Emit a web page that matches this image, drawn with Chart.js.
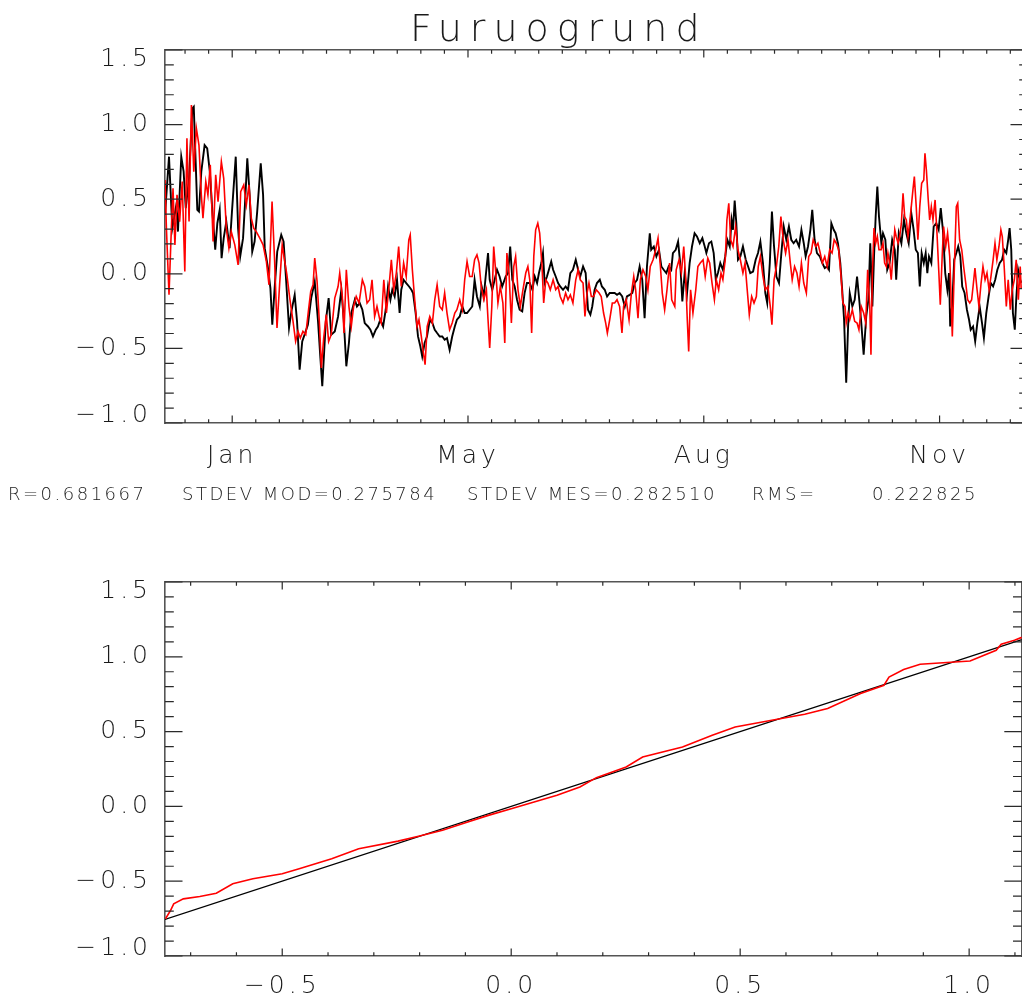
<!DOCTYPE html>
<html>
<head>
<meta charset="utf-8">
<title>Furuogrund</title>
<script src="https://cdn.jsdelivr.net/npm/chart.js@4.4.1/dist/chart.umd.min.js"></script>
<style>
  html, body { margin: 0; padding: 0; background: #fff; overflow: hidden; }
  body { width: 1022px; height: 1001px; position: relative; }
  canvas { position: absolute; left: 0; }
  #series { top: 0; }
  #qq { top: 540px; }
</style>
</head>
<body>
<canvas id="series" width="1030" height="540"></canvas>
<canvas id="qq" width="1030" height="461"></canvas>
<script>
// ---------------- data ----------------
const stationName = 'Furuogrund';
const dayRange = [0, 366];
const monthTickDays = [28.5, 128.5, 228.5, 328.5];
const monthTickLabels = ['Jan', 'May', 'Aug', 'Nov'];
const levelRange = [-1.0, 1.5];
const statLabels = ['R=0.681667', 'STDEV MOD=0.275784', 'STDEV MES=0.282510', 'RMS=', '0.222825'];

// measured sea level [day, m]
const measured = [
[0.0,0.395],[1.7,0.785],[3.1,0.306],[4.8,0.462],[5.5,0.283],[6.9,0.785],[7.9,0.685],[8.8,0.44],[10.2,0.64],[11.6,1.109],
[12.2,1.12],[13.0,0.752],[13.7,0.428],[14.4,0.417],[15.4,0.685],[16.8,0.863],[17.9,0.841],[19.0,0.685],[20.1,0.417],[21.3,0.161],
[22.2,0.339],[23.2,0.428],[24.0,0.105],[24.9,0.239],[26.0,0.35],[27.4,0.172],[28.4,0.417],[30.0,0.785],[31.0,0.306],[31.9,0.116],
[33.1,0.239],[33.9,0.462],[34.9,0.774],[35.9,0.529],[37.0,0.149],[38.0,0.216],[39.1,0.417],[40.6,0.741],[41.6,0.529],[42.3,0.172],
[43.7,0.038],[44.7,-0.096],[45.5,-0.341],[46.5,-0.096],[47.6,0.149],[49.3,0.261],[50.3,0.216],[51.4,-0.052],[52.6,-0.363],[53.6,-0.252],
[55.0,-0.141],[56.0,-0.319],[57.1,-0.643],[58.2,-0.453],[59.2,-0.408],[60.6,-0.341],[62.0,-0.163],[63.5,-0.052],[64.9,-0.319],[65.9,-0.564],
[66.7,-0.754],[68.2,-0.319],[69.4,-0.163],[70.5,-0.408],[72.0,-0.386],[73.4,-0.286],[74.8,-0.107],[75.8,-0.308],[76.9,-0.62],[78.0,-0.464],
[79.0,-0.263],[80.5,-0.174],[81.4,-0.219],[82.6,-0.196],[83.7,-0.241],[84.7,-0.33],[86.1,-0.353],[87.1,-0.375],[88.2,-0.42],[89.4,-0.375],
[90.3,-0.353],[91.3,-0.308],[92.5,-0.353],[93.6,-0.241],[94.6,-0.085],[95.6,-0.174],[96.4,-0.107],[97.4,-0.152],[98.4,-0.04],[99.5,-0.263],
[100.2,-0.107],[101.2,-0.04],[102.3,-0.062],[103.5,-0.085],[104.5,-0.107],[105.2,-0.129],[106.3,-0.263],[107.3,-0.42],[108.3,-0.487],[109.1,-0.554],
[110.1,-0.464],[111.1,-0.42],[112.3,-0.308],[113.4,-0.33],[114.4,-0.375],[115.4,-0.397],[116.5,-0.42],[117.6,-0.42],[118.6,-0.442],[119.6,-0.431],
[120.7,-0.509],[121.8,-0.42],[122.9,-0.353],[123.8,-0.308],[125.0,-0.286],[126.1,-0.219],[127.1,-0.263],[128.1,-0.263],[129.2,-0.241],[130.3,-0.219],
[131.3,-0.04],[132.3,-0.152],[133.5,-0.219],[134.3,-0.085],[135.2,-0.152],[136.0,-0.018],[137.0,0.139],[137.7,-0.04],[138.8,-0.107],[139.8,-0.04],
[140.8,0.027],[141.9,-0.018],[143.0,-0.085],[144.5,-0.018],[145.5,0.005],[146.4,0.183],[147.3,-0.04],[148.3,-0.085],[149.3,-0.174],[150.4,-0.241],
[151.5,-0.252],[152.5,-0.129],[153.5,-0.062],[154.7,-0.062],[155.8,-0.107],[156.8,-0.018],[157.8,-0.062],[158.6,0.005],[159.6,0.072],[160.3,0.139],
[161.0,-0.062],[162.0,-0.018],[163.2,0.049],[163.8,0.082],[164.6,0.027],[165.7,-0.018],[166.7,-0.062],[167.6,-0.085],[168.8,-0.107],[169.9,-0.085],
[170.9,-0.107],[171.9,0.005],[173.0,0.027],[174.2,0.094],[175.2,0.027],[176.1,-0.018],[177.3,0.049],[178.4,0.005],[179.4,-0.241],[180.4,-0.274],
[181.2,-0.219],[182.2,-0.107],[183.2,-0.062],[184.4,-0.04],[185.3,-0.085],[186.5,-0.107],[187.5,-0.152],[188.6,-0.129],[189.7,-0.129],[190.7,-0.129],
[191.7,-0.141],[192.8,-0.129],[193.9,-0.152],[195.0,-0.219],[195.9,-0.152],[197.1,-0.141],[198.2,-0.129],[199.2,-0.062],[200.2,-0.04],[201.3,0.049],
[202.4,-0.04],[203.4,-0.297],[204.4,0.049],[205.6,0.272],[206.2,0.161],[207.3,0.183],[208.4,0.116],[209.5,0.161],[210.5,0.049],[211.5,0.027],
[212.6,0.005],[213.6,0.049],[214.7,0.027],[215.4,0.139],[216.6,0.161],[217.6,0.216],[218.5,0.072],[219.4,-0.185],[220.4,0.005],[221.4,-0.129],
[222.5,0.072],[223.5,0.183],[224.6,0.272],[225.6,0.25],[226.8,0.205],[227.9,0.239],[228.9,0.183],[229.6,0.139],[230.7,0.205],[231.7,0.216],
[232.7,0.139],[233.6,-0.04],[234.5,0.005],[235.5,0.072],[236.6,0.027],[237.6,0.116],[238.5,0.228],[239.5,0.183],[240.3,0.361],[240.9,0.295],
[241.6,0.491],[242.3,0.339],[243.0,0.094],[244.0,0.116],[245.1,0.183],[246.3,0.094],[247.3,0.049],[248.2,0.005],[249.4,0.015],[250.5,0.094],
[251.5,0.139],[252.5,0.216],[253.6,0.072],[254.6,-0.129],[255.4,-0.196],[256.5,0.072],[257.4,0.417],[258.3,0.183],[259.3,-0.018],[260.4,-0.062],
[261.4,0.139],[262.4,0.317],[263.5,0.228],[264.6,0.317],[265.6,0.228],[266.6,0.205],[267.7,0.228],[268.9,0.183],[269.9,0.295],[270.9,0.205],
[271.7,0.116],[272.7,0.183],[273.7,0.295],[274.5,0.428],[275.5,0.228],[276.5,0.139],[277.7,0.116],[278.8,0.072],[279.8,0.038],[280.8,0.049],
[281.6,0.027],[282.6,0.339],[283.6,0.295],[284.4,0.272],[285.4,0.205],[286.4,0.072],[287.2,-0.107],[288.0,-0.308],[288.9,-0.73],[289.7,-0.353],
[290.4,-0.129],[291.5,-0.219],[292.5,-0.174],[293.5,-0.018],[294.3,-0.152],[295.3,-0.33],[296.3,-0.542],[297.4,-0.286],[298.3,-0.174],[299.1,0.205],
[300.0,-0.219],[300.7,0.116],[301.4,0.384],[302.1,0.584],[302.8,0.384],[303.8,0.205],[304.5,0.272],[305.5,0.228],[306.3,0.027],[307.3,0.072],
[308.4,0.228],[309.5,0.161],[310.1,-0.04],[311.2,0.272],[312.3,0.205],[313.4,0.361],[314.4,0.272],[315.4,0.205],[316.5,0.406],[317.5,0.295],
[318.4,0.161],[319.3,0.139],[320.1,-0.085],[320.9,0.139],[321.8,0.072],[322.6,0.139],[323.3,0.005],[324.0,0.116],[325.0,0.072],[326.0,0.317],
[327.1,0.339],[328.1,0.295],[329.0,0.44],[329.9,0.295],[330.9,0.005],[331.8,-0.107],[332.5,0.005],[333.0,-0.353],[333.9,-0.196],[334.7,0.094],
[335.6,0.139],[336.4,0.183],[337.3,0.116],[338.1,-0.085],[339.1,-0.129],[340.1,-0.241],[341.0,-0.308],[341.7,-0.375],[342.7,-0.353],[343.6,-0.453],
[344.5,-0.33],[345.5,-0.219],[346.5,-0.33],[347.3,-0.43],[348.3,-0.263],[349.3,-0.152],[350.2,-0.062],[351.2,-0.085],[352.1,-0.04],[353.0,0.027],
[354.0,0.072],[355.0,0.094],[355.9,0.161],[356.8,0.139],[357.6,0.228],[358.2,0.306],[358.9,0.161],[359.6,-0.263],[360.4,-0.375],[361.0,-0.174],
[361.8,0.027],[362.7,-0.04],[363.1,-0.06]
];

// modelled sea level [day, m]
const modelled = [
[0.0,0.629],[0.6,0.306],[1.7,-0.141],[2.7,0.306],[3.4,0.574],[4.2,0.194],[5.1,0.529],[6.2,0.35],[7.3,0.618],[8.4,0.015],
[9.3,0.908],[10.2,0.35],[11.2,1.131],[12.2,0.685],[13.3,0.975],[14.4,0.863],[15.4,0.529],[16.1,0.373],[17.3,0.618],[18.2,0.529],
[19.2,0.73],[20.4,0.216],[21.5,0.663],[22.5,0.484],[23.9,0.752],[24.9,0.64],[26.0,0.306],[27.1,0.172],[28.1,0.283],[29.6,0.194],
[31.0,0.06],[32.1,0.551],[33.4,0.596],[34.5,0.462],[35.6,0.596],[36.6,0.373],[37.6,0.306],[38.7,0.283],[40.2,0.239],[41.6,0.194],
[43.0,0.082],[44.1,-0.074],[45.4,0.484],[46.5,0.082],[47.5,-0.363],[48.6,-0.074],[49.7,0.194],[50.8,0.082],[51.7,-0.007],[52.9,-0.163],
[54.3,-0.319],[55.4,-0.453],[56.4,-0.386],[57.4,-0.43],[58.5,-0.386],[59.7,-0.408],[60.8,-0.252],[61.8,-0.118],[62.8,-0.074],[63.5,0.105],
[64.5,-0.052],[65.6,-0.363],[66.3,-0.631],[67.3,-0.43],[68.4,-0.274],[69.4,-0.453],[70.5,-0.408],[72.0,-0.163],[73.4,-0.085],[74.1,0.005],
[75.2,-0.152],[75.9,-0.397],[76.9,0.027],[78.0,-0.219],[79.0,-0.353],[80.0,-0.219],[81.1,-0.152],[82.3,-0.196],[83.7,-0.04],[84.7,-0.085],
[85.7,-0.196],[86.8,-0.174],[87.8,-0.04],[88.9,-0.286],[89.9,-0.219],[91.1,-0.308],[91.7,-0.33],[92.8,-0.04],[93.9,-0.263],[95.0,-0.085],
[96.0,0.094],[97.0,-0.107],[98.1,0.005],[99.1,0.183],[100.2,-0.085],[101.2,0.072],[102.3,-0.018],[103.4,0.228],[104.0,0.261],[104.9,0.027],
[105.9,-0.174],[106.9,-0.353],[107.7,-0.308],[108.7,-0.42],[109.4,-0.509],[110.3,-0.609],[111.2,-0.353],[112.3,-0.286],[113.4,-0.33],[114.4,-0.174],
[115.4,-0.074],[116.5,-0.219],[117.6,-0.241],[118.6,-0.129],[119.6,-0.263],[120.7,-0.375],[121.8,-0.33],[122.9,-0.263],[123.8,-0.241],[125.0,-0.174],
[126.1,-0.241],[127.1,-0.04],[128.1,0.082],[129.2,-0.018],[130.3,-0.018],[131.3,0.094],[132.3,0.127],[133.2,0.072],[134.1,-0.085],[135.2,-0.174],
[136.3,-0.107],[137.0,-0.308],[137.7,-0.497],[138.6,-0.219],[139.4,0.183],[140.3,0.005],[141.2,-0.196],[142.2,-0.085],[143.3,-0.196],[144.1,-0.464],
[145.0,0.139],[145.9,0.005],[146.9,-0.33],[147.9,0.049],[148.7,0.116],[149.7,-0.107],[150.7,-0.219],[151.8,-0.107],[153.0,0.005],[153.9,0.049],
[154.7,-0.04],[155.5,-0.397],[156.4,0.116],[157.2,0.295],[158.1,0.339],[158.9,0.272],[159.9,0.049],[160.6,-0.196],[161.5,-0.04],[162.4,-0.062],
[163.4,-0.107],[164.6,-0.04],[165.7,-0.107],[166.7,-0.085],[167.6,-0.152],[168.8,-0.196],[169.9,-0.129],[170.9,-0.174],[171.9,-0.141],[173.0,-0.196],
[174.2,-0.04],[175.2,0.027],[176.1,-0.04],[177.3,-0.062],[178.1,-0.286],[179.0,-0.129],[179.8,-0.062],[180.8,-0.152],[181.8,-0.152],[182.9,-0.107],
[184.1,-0.129],[185.0,-0.152],[186.0,-0.263],[186.9,-0.33],[187.6,-0.397],[188.6,-0.308],[189.7,-0.196],[190.7,-0.196],[191.7,-0.174],[192.8,-0.219],
[193.8,-0.397],[194.5,-0.219],[195.6,-0.174],[196.8,-0.308],[197.8,-0.129],[198.8,-0.018],[199.6,-0.107],[200.6,-0.297],[201.6,-0.04],[202.7,0.027],
[203.9,-0.018],[204.8,-0.107],[205.8,0.049],[207.0,0.094],[208.1,0.161],[209.1,0.239],[210.1,0.049],[210.9,-0.129],[211.9,-0.241],[212.9,-0.107],
[214.0,0.072],[214.9,-0.174],[216.2,-0.219],[216.8,0.027],[218.0,0.094],[219.0,0.005],[220.0,0.183],[220.8,-0.018],[221.5,-0.308],[222.1,-0.52],
[222.9,-0.107],[223.9,-0.263],[225.1,-0.107],[226.0,0.049],[227.0,0.072],[228.2,0.094],[229.1,-0.018],[230.2,0.105],[231.0,0.072],[232.0,-0.062],
[233.0,-0.174],[233.8,-0.04],[234.8,-0.107],[235.8,0.005],[236.6,-0.04],[237.6,0.094],[238.3,0.361],[239.1,0.473],[239.9,0.228],[240.9,0.183],
[242.0,0.317],[243.0,0.161],[244.0,0.094],[245.1,0.005],[246.0,0.072],[246.8,-0.085],[247.8,-0.274],[248.8,-0.152],[249.8,-0.196],[250.8,-0.152],
[251.6,0.049],[252.5,0.116],[253.6,-0.018],[254.6,-0.107],[255.7,-0.085],[256.7,-0.219],[257.4,-0.341],[258.3,-0.04],[259.3,0.049],[260.3,0.183],
[261.2,0.384],[262.2,0.228],[263.2,0.139],[264.2,0.228],[265.2,0.072],[266.0,-0.04],[267.0,0.049],[268.0,0.005],[268.9,-0.085],[269.9,0.072],
[270.9,-0.062],[272.0,-0.129],[273.0,0.116],[274.0,0.139],[274.9,0.228],[276.0,0.183],[276.9,0.205],[277.9,0.139],[278.8,0.072],[279.8,0.116],
[280.8,0.049],[281.9,0.161],[282.9,0.139],[283.8,0.228],[284.7,0.205],[285.7,0.161],[286.6,0.005],[287.5,-0.196],[288.4,-0.219],[288.9,-0.33],
[289.7,-0.263],[290.4,-0.308],[291.5,-0.241],[292.5,-0.319],[293.5,-0.33],[294.3,-0.375],[295.3,-0.219],[296.3,-0.263],[297.2,-0.33],[298.0,0.027],
[298.9,-0.219],[299.4,-0.542],[300.0,0.005],[300.7,0.306],[301.4,0.205],[302.1,0.25],[302.8,0.161],[303.7,0.161],[304.5,0.205],[305.2,0.072],
[305.9,0.049],[306.6,0.139],[307.3,0.072],[308.0,-0.04],[308.7,0.116],[309.5,0.295],[310.1,0.25],[310.9,0.205],[311.6,0.25],[312.3,0.339],
[313.0,0.54],[313.7,0.384],[314.4,0.361],[315.1,0.25],[315.8,0.339],[316.5,0.45],[317.2,0.562],[317.8,0.651],[318.6,0.45],[319.3,0.228],
[320.1,0.45],[320.9,0.607],[321.8,0.629],[322.3,0.808],[322.9,0.696],[323.7,0.495],[324.3,0.361],[325.0,0.45],[325.7,0.361],[326.6,0.495],
[327.4,0.272],[328.2,0.005],[328.8,-0.207],[329.6,0.116],[330.2,0.317],[331.1,0.183],[331.9,0.272],[332.8,0.116],[333.5,-0.219],[333.9,-0.42],
[334.7,0.005],[335.6,0.45],[336.2,0.473],[337.0,0.228],[337.9,0.161],[338.7,0.049],[339.6,-0.062],[340.4,-0.174],[341.3,-0.196],[342.1,-0.174],
[342.7,-0.085],[343.5,0.038],[344.4,-0.107],[345.2,-0.219],[346.1,-0.062],[346.9,0.049],[347.8,-0.04],[348.6,0.005],[349.5,-0.107],[350.3,-0.018],
[351.2,0.094],[352.0,0.205],[352.8,0.094],[353.7,0.183],[354.5,0.295],[355.1,0.25],[355.9,0.049],[356.8,-0.219],[357.6,-0.04],[358.5,-0.241],
[359.3,-0.107],[360.2,-0.04],[361.0,0.094],[361.9,-0.174],[362.7,0.049],[363.1,-0.1]
];

// quantile pairs [measured, modelled] and the 1:1 reference range
const qqRange = [-0.756, 1.115];
const qqPairs = [
[-0.755,-0.752],[-0.744,-0.696],[-0.737,-0.651],[-0.716,-0.618],[-0.68,-0.602],[-0.644,-0.58],[-0.608,-0.517],[-0.564,-0.484],
[-0.5,-0.45],[-0.463,-0.417],[-0.392,-0.35],[-0.333,-0.283],[-0.247,-0.232],[-0.2,-0.198],[-0.15,-0.16],[-0.1,-0.11],
[-0.05,-0.06],[0.0,-0.015],[0.05,0.03],[0.1,0.075],[0.15,0.13],[0.186,0.192],[0.251,0.263],[0.287,0.33],
[0.374,0.397],[0.439,0.475],[0.489,0.531],[0.569,0.576],[0.641,0.616],[0.691,0.654],[0.763,0.754],[0.814,0.81],
[0.825,0.865],[0.857,0.915],[0.893,0.95],[1.002,0.972],[1.059,1.044],[1.07,1.084],[1.099,1.111],[1.115,1.13]
];

// ---------------- styling / helpers ----------------
const FONT = '"DejaVu Sans", "Liberation Sans", sans-serif';
const INK = '#1a1a1a';
const tickFont = { family: FONT, size: 25, weight: 200 };

const fmtNum = v => (v < 0 ? '\u2212' : '') + Math.abs(v).toFixed(1);

function stepTicks(from, to, step, isMajor) {
  const out = [];
  const n = Math.round((to - from) / step);
  for (let i = 0; i <= n; i++) {
    const v = +(from + i * step).toFixed(4);
    out.push({ value: v, isMajor: isMajor(v) });
  }
  return out;
}
const onHalf = v => Math.abs(v * 2 - Math.round(v * 2)) < 1e-6;

// IDL-style frame: inward ticks on all four sides, mirrored
const idlTicks = {
  id: 'idlTicks',
  afterDatasetsDraw(chart) {
    const { ctx, chartArea: a } = chart;
    ctx.save();
    ctx.strokeStyle = '#2a2a2a';
    ctx.lineWidth = 1.2;
    ctx.beginPath();
    const xs = chart.scales.x, ys = chart.scales.y;
    for (const t of xs.ticks) {
      const p = xs.getPixelForValue(t.value);
      const len = t.isMajor ? 7.5 : 3.8;
      ctx.moveTo(p, a.bottom); ctx.lineTo(p, a.bottom - len);
      ctx.moveTo(p, a.top); ctx.lineTo(p, a.top + len);
    }
    for (const t of ys.ticks) {
      const p = ys.getPixelForValue(t.value);
      const len = t.isMajor ? 17.5 : 8.8;
      ctx.moveTo(a.left, p); ctx.lineTo(a.left + len, p);
      ctx.moveTo(a.right, p); ctx.lineTo(a.right - len, p);
    }
    ctx.stroke();
    ctx.restore();
  }
};

// wide glyph spacing for all canvas text; edge labels of the value axis tucked inside the frame
const textSpacing = {
  id: 'textSpacing',
  beforeLayout(chart) { chart.ctx.letterSpacing = '4px'; },
  beforeDraw(chart) {
    chart.ctx.letterSpacing = '4px';
    const ys = chart.scales.y;
    const items = ys && ys.getLabelItems ? ys.getLabelItems() : null;
    if (!items || items._tucked) return;
    const topLabel = fmtNum(levelRange[1]), botLabel = fmtNum(levelRange[0]);
    for (const it of items) {
      if (!it.options || !it.options.translation) continue;
      if (it.label === topLabel) it.options.translation[1] += 9;
      if (it.label === botLabel) it.options.translation[1] -= 8;
    }
    items._tucked = true;
  }
};

function frameAxis(position, min, max, fitSize) {
  return {
    type: 'linear', position, min, max, display: true,
    ticks: { display: false },
    grid: { drawOnChartArea: false, drawTicks: false },
    border: { display: true, color: '#555', width: 1.6 },
    afterFit(s) { if (position === 'top' || position === 'bottom') s.height = fitSize; else s.width = fitSize; }
  };
}

function levelAxis() {
  return {
    type: 'linear', position: 'left', min: levelRange[0], max: levelRange[1],
    afterBuildTicks(s) { s.ticks = stepTicks(levelRange[0], levelRange[1], 0.1, onHalf); },
    afterFit(s) { s.width = 165; },
    ticks: {
      autoSkip: false, font: tickFont, color: INK, padding: 13,
      callback: (v, i, t) => (t[i] && t[i].isMajor ? fmtNum(v) : '')
    },
    grid: { drawOnChartArea: false, drawTicks: false },
    border: { display: true, color: '#555', width: 1.6 }
  };
}

Chart.defaults.font.family = FONT;

// ---------------- time series panel ----------------
const annotations = {
  id: 'annotations',
  afterDraw(chart) {
    const ctx = chart.ctx;
    ctx.save();
    ctx.fillStyle = INK;
    ctx.textBaseline = 'alphabetic';
    ctx.textAlign = 'left';
    ctx.letterSpacing = '8px';
    ctx.font = '200 38px ' + FONT;
    ctx.fillText(stationName, 410, 41);
    ctx.letterSpacing = '2.5px';
    ctx.font = '200 18px ' + FONT;
    const xs = [8, 182, 467, 752, 872];
    statLabels.forEach((s, i) => ctx.fillText(s, xs[i], 500));
    ctx.restore();
  }
};

new Chart(document.getElementById('series'), {
  type: 'scatter',
  data: {
    datasets: [
      { label: 'model', data: modelled.map(p => ({ x: p[0], y: p[1] })), showLine: true,
        borderColor: '#ff0000', borderWidth: 1.6, pointRadius: 0, tension: 0 },
      { label: 'measured', data: measured.map(p => ({ x: p[0], y: p[1] })), showLine: true,
        borderColor: '#000000', borderWidth: 1.9, pointRadius: 0, tension: 0 }
    ]
  },
  options: {
    responsive: false, animation: false, devicePixelRatio: 1, events: [],
    layout: { padding: { top: 50, right: 2, left: 0, bottom: 0 } },
    plugins: { legend: { display: false }, tooltip: { enabled: false } },
    scales: {
      x: {
        type: 'linear', position: 'bottom', min: dayRange[0], max: dayRange[1],
        afterBuildTicks(s) {
          s.ticks = stepTicks(8.5, 358.5, 10, v => monthTickDays.includes(v));
        },
        afterFit(s) { s.height = 117; },
        ticks: {
          autoSkip: false, maxRotation: 0, font: tickFont, color: INK, padding: 18,
          callback: v => { const k = monthTickDays.indexOf(v); return k >= 0 ? monthTickLabels[k] : ''; }
        },
        grid: { drawOnChartArea: false, drawTicks: false },
        border: { display: true, color: '#555', width: 1.6 }
      },
      y: levelAxis(),
      xTop: frameAxis('top', dayRange[0], dayRange[1], 0),
      yRight: frameAxis('right', levelRange[0], levelRange[1], 0)
    }
  },
  plugins: [textSpacing, idlTicks, annotations]
});

// ---------------- quantile panel ----------------
new Chart(document.getElementById('qq'), {
  type: 'scatter',
  data: {
    datasets: [
      { label: 'quantiles', data: qqPairs.map(p => ({ x: p[0], y: p[1] })), showLine: true,
        borderColor: '#ff0000', borderWidth: 1.6, pointRadius: 0, tension: 0 },
      { label: '1:1', data: qqRange.map(v => ({ x: v, y: v })), showLine: true,
        borderColor: '#000000', borderWidth: 1.3, pointRadius: 0, tension: 0 }
    ]
  },
  options: {
    responsive: false, animation: false, devicePixelRatio: 1, events: [],
    layout: { padding: { top: 42, right: 2, left: 0, bottom: 0 } },
    plugins: { legend: { display: false }, tooltip: { enabled: false } },
    scales: {
      x: {
        type: 'linear', position: 'bottom', min: qqRange[0], max: qqRange[1],
        afterBuildTicks(s) { s.ticks = stepTicks(-0.7, 1.1, 0.1, onHalf); },
        afterFit(s) { s.height = 45; },
        ticks: {
          autoSkip: false, maxRotation: 0, font: tickFont, color: INK, padding: 15,
          callback: (v, i, t) => (t[i] && t[i].isMajor ? fmtNum(v) : '')
        },
        grid: { drawOnChartArea: false, drawTicks: false },
        border: { display: true, color: '#555', width: 1.6 }
      },
      y: levelAxis(),
      xTop: frameAxis('top', qqRange[0], qqRange[1], 0),
      yRight: frameAxis('right', levelRange[0], levelRange[1], 0)
    }
  },
  plugins: [textSpacing, idlTicks]
});
</script>
</body>
</html>
